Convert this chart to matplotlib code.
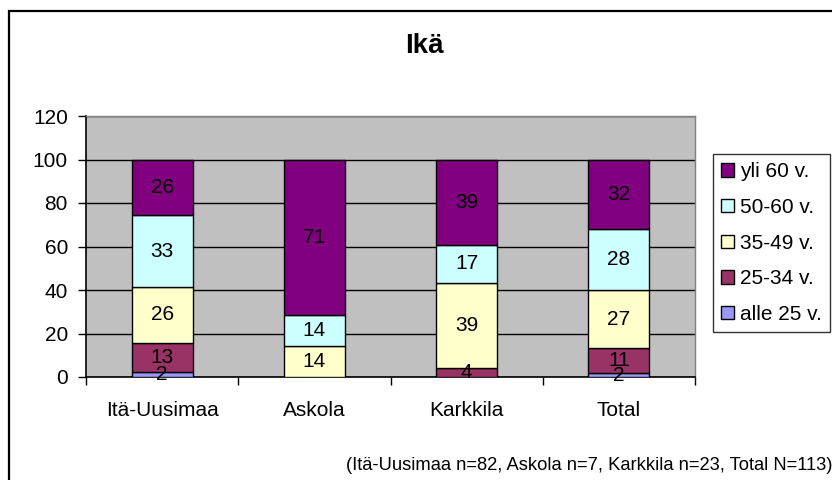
import matplotlib
matplotlib.use("Agg")
import matplotlib.pyplot as plt
from matplotlib.patches import Rectangle, Patch
import numpy as np

plt.rcParams['font.family'] = ['Liberation Sans', 'DejaVu Sans']

title = "Ikä"
categories = ["Itä-Uusimaa", "Askola", "Karkkila", "Total"]
series_names = ["alle 25 v.", "25-34 v.", "35-49 v.", "50-60 v.", "yli 60 v."]
series_values = {
    "alle 25 v.": [2.4, 0.0, 0.0, 1.8],
    "25-34 v.":   [13.4, 0.0, 4.3, 11.4],
    "35-49 v.":   [25.6, 14.3, 39.1, 26.6],
    "50-60 v.":   [32.9, 14.3, 17.4, 28.3],
    "yli 60 v.":  [25.6, 71.4, 39.1, 31.9],
}
colors = {
    "alle 25 v.": "#9999FF",
    "25-34 v.":   "#993366",
    "35-49 v.":   "#FFFFCC",
    "50-60 v.":   "#CCFFFF",
    "yli 60 v.":  "#800080",
}
y_ticks = [0, 20, 40, 60, 80, 100, 120]
footnote = "(Itä-Uusimaa n=82, Askola n=7, Karkkila n=23, Total N=113)"

W, H = 832, 480
FS = 15
fig = plt.figure(figsize=(W / 100, H / 100), dpi=100)
fig.patch.set_facecolor("white")

# outer chart border
fig.patches.append(Rectangle((8.5 / W, -0.1), 1.2, 1.1 - 10.5 / H,
                             transform=fig.transFigure, fill=False,
                             edgecolor="black", linewidth=1.6, zorder=0))

ax = fig.add_axes([86 / W, 1 - 377 / H, (695 - 86) / W, (377 - 116) / H])
ax.set_facecolor("#C0C0C0")

x = np.arange(len(categories))
bottom = np.zeros(len(categories))
for name in series_names:
    vals = np.array(series_values[name])
    ax.bar(x, vals, width=0.4, bottom=bottom, color=colors[name],
           edgecolor="black", linewidth=1.0, zorder=3)
    for xi, v, bt in zip(x, vals, bottom):
        if v > 0:
            ax.text(xi, bt + v / 2, f"{v:.0f}", ha="center", va="center",
                    fontsize=FS, color="black", zorder=4)
    bottom += vals

ax.set_xlim(-0.5, len(categories) - 0.5)
ax.set_ylim(0, 120)
ax.set_yticks(y_ticks)
ax.set_yticklabels([str(t) for t in y_ticks], fontsize=FS)
ax.yaxis.grid(True, color="black", linewidth=1.0, zorder=1)
ax.set_axisbelow(True)

ax.set_xticks(x)
ax.set_xticklabels(categories, fontsize=FS)
ax.set_xticks(np.arange(-0.5, len(categories), 1.0), minor=True)
ax.tick_params(axis="x", which="major", length=0, pad=17)
ax.tick_params(axis="x", which="minor", length=6, width=1.0, direction="out")
ax.tick_params(axis="y", length=6, width=1.0, direction="out", pad=7)

for s in ["top", "right"]:
    ax.spines[s].set_color("#808080")
    ax.spines[s].set_linewidth(1.0)
for s in ["left", "bottom"]:
    ax.spines[s].set_color("black")
    ax.spines[s].set_linewidth(1.2)

fig.text(424 / W, 1 - 46 / H, title, ha="center", va="center",
         fontsize=20, fontweight="bold")

handles = [Patch(facecolor=colors[n], edgecolor="black", linewidth=1.0)
           for n in reversed(series_names)]
leg = fig.legend(handles, list(reversed(series_names)), loc="upper left",
                 bbox_to_anchor=(713 / W, 1 - 154 / H), fontsize=FS,
                 frameon=True, fancybox=False, edgecolor="black",
                 handlelength=0.6, handleheight=0.6, handletextpad=0.3,
                 labelspacing=0.8, borderpad=0.4, borderaxespad=0)
leg.get_frame().set_linewidth(1.0)

fig.text(346 / W, 1 - 466 / H, footnote, ha="left", va="center", fontsize=13.2)

fig.savefig("out.png", dpi=100)
